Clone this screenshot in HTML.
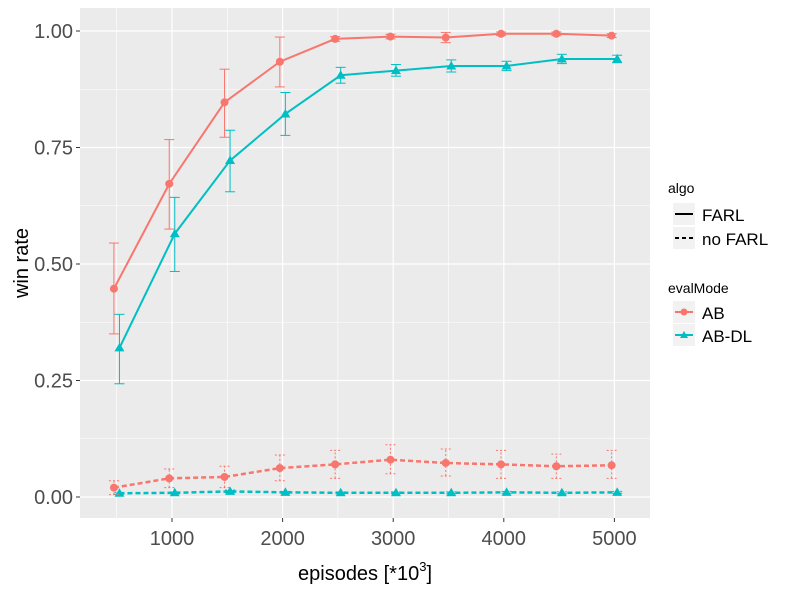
<!DOCTYPE html>
<html><head><meta charset="utf-8"><style>
body{margin:0;background:#fff;}
svg{display:block;font-family:"Liberation Sans",Arial,sans-serif;}
</style></head><body>
<svg id="chart" width="787" height="591" viewBox="0 0 787 591">
<rect x="80" y="8" width="570" height="510" fill="#ebebeb"/>
<g id="grid"></g>
<g id="series"></g>
<g id="axes"></g>
<text x="365" y="580" font-size="20" text-anchor="middle" fill="#000">episodes [*10<tspan dy="-9" font-size="13">3</tspan><tspan dy="9">]</tspan></text>
<text transform="translate(28,263) rotate(-90)" font-size="20" text-anchor="middle" fill="#000">win rate</text>
<g>
<text x="668" y="193" font-size="14">algo</text>
<rect x="673" y="203" width="22" height="22" fill="#f2f2f2"/>
<line x1="675" y1="214" x2="693" y2="214" stroke="#000" stroke-width="2"/>
<text x="702" y="221" font-size="17">FARL</text>
<rect x="673" y="227" width="22" height="22" fill="#f2f2f2"/>
<line x1="675" y1="238" x2="693" y2="238" stroke="#000" stroke-width="2" stroke-dasharray="4,3"/>
<text x="702" y="245" font-size="17">no FARL</text>
<text x="668" y="293" font-size="14">evalMode</text>
<rect x="673" y="301" width="22" height="22" fill="#f2f2f2"/>
<line x1="675" y1="312" x2="693" y2="312" stroke="#f8766d" stroke-width="2"/>
<circle cx="684" cy="312" r="3.5" fill="#f8766d"/>
<text x="702" y="319" font-size="17">AB</text>
<rect x="673" y="324" width="22" height="22" fill="#f2f2f2"/>
<line x1="675" y1="335" x2="693" y2="335" stroke="#00bfc4" stroke-width="2"/>
<path d="M684,331 L688,338 L680,338 Z" fill="#00bfc4"/>
<text x="702" y="342" font-size="17">AB-DL</text>
</g>
</svg>
<script>
const episodes=[500,1000,1500,2000,2500,3000,3500,4000,4500,5000];
const farlAB=[0.447,0.672,0.847,0.934,0.983,0.988,0.986,0.994,0.994,0.99];
const farlABlo=[0.35,0.575,0.772,0.88,0.978,0.983,0.975,0.99,0.99,0.986];
const farlABhi=[0.545,0.767,0.918,0.987,0.988,0.993,0.997,0.998,0.998,0.994];
const farlDL=[0.32,0.565,0.722,0.822,0.905,0.915,0.925,0.925,0.94,0.94];
const farlDLlo=[0.243,0.484,0.655,0.776,0.888,0.903,0.912,0.915,0.93,0.932];
const farlDLhi=[0.392,0.643,0.787,0.868,0.922,0.928,0.938,0.935,0.95,0.948];
const noAB=[0.02,0.04,0.043,0.062,0.07,0.08,0.073,0.07,0.066,0.068];
const noABlo=[0.005,0.02,0.02,0.035,0.04,0.05,0.045,0.04,0.04,0.04];
const noABhi=[0.035,0.06,0.066,0.09,0.1,0.112,0.103,0.1,0.092,0.1];
const noDL=[0.008,0.009,0.012,0.01,0.009,0.009,0.009,0.01,0.009,0.01];
const noDLlo=[0.006,0.007,0.009,0.008,0.007,0.007,0.007,0.008,0.007,0.008];
const noDLhi=[0.01,0.011,0.015,0.012,0.011,0.011,0.011,0.012,0.011,0.012];
const xTicks=[1000,2000,3000,4000,5000];
const yTicks=[0,0.25,0.5,0.75,1.0];
const yTickLabels=["0.00","0.25","0.50","0.75","1.00"];
const NS="http://www.w3.org/2000/svg";
const X=v=>172+(v-1000)*0.1106;
const Y=v=>497-v*466;
function mk(tag,attrs,parent){const e=document.createElementNS(NS,tag);for(const k in attrs)e.setAttribute(k,attrs[k]);parent.appendChild(e);return e;}
const grid=document.getElementById('grid'),axes=document.getElementById('axes'),ser=document.getElementById('series');
for(let i=0;i<yTicks.length-1;i++){const l=mk('line',{x1:80,x2:650,y1:Y((yTicks[i]+yTicks[i+1])/2),y2:Y((yTicks[i]+yTicks[i+1])/2),stroke:'#fff','stroke-width':0.6},grid);

}
const xm=[500,1500,2500,3500,4500];
xm.forEach(v=>{const l=mk('line',{x1:X(v),x2:X(v),y1:8,y2:518,stroke:'#fff','stroke-width':0.6},grid);

});
yTicks.forEach((v,i)=>{const l=mk('line',{x1:80,x2:650,y1:Y(v),y2:Y(v),stroke:'#fff','stroke-width':1.2},grid);


mk('line',{x1:76,x2:80,y1:Y(v),y2:Y(v),stroke:'#333','stroke-width':1},axes);
const t=mk('text',{x:73,y:Y(v)+7,'font-size':20,'text-anchor':'end',fill:'#4d4d4d'},axes);t.textContent=yTickLabels[i];

});
xTicks.forEach(v=>{const l=mk('line',{x1:X(v),x2:X(v),y1:8,y2:518,stroke:'#fff','stroke-width':1.2},grid);


mk('line',{x1:X(v),x2:X(v),y1:518,y2:522,stroke:'#333','stroke-width':1},axes);
const t=mk('text',{x:X(v),y:545,'font-size':20,'text-anchor':'middle',fill:'#4d4d4d'},axes);t.textContent=v;

});
function series(vals,lo,hi,color,dodge,dash,shape,name){
const g=mk('g',{},ser);


vals.forEach((v,i)=>{const x=X(episodes[i]+dodge);
const a={stroke:color,'stroke-width':1};if(dash)a['stroke-dasharray']='2,2';
mk('line',Object.assign({x1:x,x2:x,y1:Y(lo[i]),y2:Y(hi[i])},a),g);
mk('line',Object.assign({x1:x-5,x2:x+5,y1:Y(lo[i]),y2:Y(lo[i])},a),g);
mk('line',Object.assign({x1:x-5,x2:x+5,y1:Y(hi[i]),y2:Y(hi[i])},a),g);});
const pts=vals.map((v,i)=>X(episodes[i]+dodge)+','+Y(v)).join(' ');
const pl=mk('polyline',{points:pts,fill:'none',stroke:color,'stroke-width':dash?2.5:2,'stroke-dasharray':dash?'5,3':'none'},g);


vals.forEach((v,i)=>{const x=X(episodes[i]+dodge),y=Y(v);let p;
if(shape==='c')p=mk('circle',{cx:x,cy:y,r:4,fill:color},g);
else p=mk('path',{d:`M${x},${y-5} L${x+5},${y+3.5} L${x-5},${y+3.5} Z`,fill:color},g);

});}
series(noDL,noDLlo,noDLhi,'#00bfc4',25,true,'t','no-farl-ab-dl');
series(noAB,noABlo,noABhi,'#f8766d',-25,true,'c','no-farl-ab');
series(farlDL,farlDLlo,farlDLhi,'#00bfc4',25,false,'t','farl-ab-dl');
series(farlAB,farlABlo,farlABhi,'#f8766d',-25,false,'c','farl-ab');
</script>
</body></html>
